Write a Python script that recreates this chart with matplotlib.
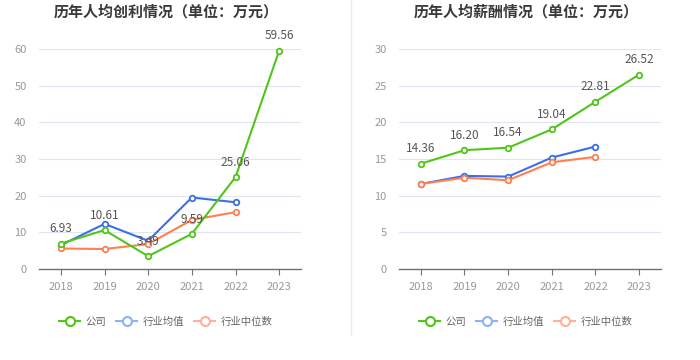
import matplotlib
matplotlib.use("Agg")
import matplotlib.pyplot as plt
from matplotlib.lines import Line2D

plt.rcParams['font.family'] = ['Noto Sans CJK SC', 'DejaVu Sans']

years = ['2018', '2019', '2020', '2021', '2022', '2023']

profit_title = '历年人均创利情况（单位：万元）'
profit_company = [6.93, 10.61, 3.49, 9.59, 25.06, 59.56]
profit_avg = [6.5, 12.3, 7.7, 19.5, 18.2]
profit_median = [5.6, 5.45, 6.8, 13.4, 15.5]
profit_yticks = [0, 10, 20, 30, 40, 50, 60]

salary_title = '历年人均薪酬情况（单位：万元）'
salary_company = [14.36, 16.20, 16.54, 19.04, 22.81, 26.52]
salary_avg = [11.6, 12.7, 12.6, 15.2, 16.7]
salary_median = [11.6, 12.45, 12.1, 14.55, 15.3]
salary_yticks = [0, 5, 10, 15, 20, 25, 30]

series_names = ['公司', '行业均值', '行业中位数']
colors = ['#52c41a', '#3b6fe6', '#ff7f50']
legend_colors = ['#52c41a', '#8fb0f2', '#ffb09a']

W, H = 700, 360
fig = plt.figure(figsize=(7, 3.6), dpi=100)


def make_panel(x0, x1, title, comp, avg, med, yticks):
    y_bot, y_top = 269, 49
    ax = fig.add_axes([x0 / W, 1 - y_bot / H, (x1 - x0) / W, (y_bot - y_top) / H])
    n = len(years)
    xs = list(range(n))
    ax.set_xlim(-0.5, n - 0.5)
    ax.set_ylim(yticks[0], yticks[-1])
    ax.set_yticks(yticks)
    ax.set_xticks(xs)
    ax.set_xticklabels(years)
    for s in ['top', 'right', 'left']:
        ax.spines[s].set_visible(False)
    ax.spines['bottom'].set_color('#6e7079')
    ax.spines['bottom'].set_linewidth(1)
    ax.yaxis.grid(True, color='#e0e6f1', linewidth=0.8)
    ax.set_axisbelow(True)
    ax.tick_params(axis='y', length=0, labelsize=8, labelcolor='#999999', pad=9)
    ax.tick_params(axis='x', length=4, color='#6e7079', labelsize=8, labelcolor='#999999', pad=5)
    for data, c, z in [(avg, colors[1], 3), (med, colors[2], 3), (comp, colors[0], 4)]:
        ax.plot(xs[:len(data)], data, color=c, linewidth=1.5, marker='o', markersize=4,
                markerfacecolor='white', markeredgecolor=c, markeredgewidth=1.3,
                zorder=z, clip_on=False)
    for i, v in enumerate(comp):
        ax.annotate(f'{v:.2f}', (xs[i], v), xytext=(0, 6), textcoords='offset points',
                    ha='center', va='bottom', fontsize=8.5, color='#555555', zorder=6)
    fig.text((x0 + x1) / 2 / W - 4 / W, 1 - 12 / H, title, ha='center', va='center',
             fontsize=10.8, fontweight='bold', color='#3a3a3a')
    handles = [Line2D([0], [0], color=lc, linewidth=1.5, marker='o', markersize=6.5,
                      markerfacecolor='white', markeredgecolor=lc, markeredgewidth=1.5)
               for lc in legend_colors]
    leg = fig.legend(handles, series_names, loc='center',
                     bbox_to_anchor=((x0 + x1) / 2 / W - 0.006, 1 - 322 / H),
                     ncol=3, frameon=False, fontsize=7.5, handlelength=2.0,
                     columnspacing=1.0, handletextpad=0.5)
    for t in leg.get_texts():
        t.set_color('#666666')
    return ax


make_panel(39, 301, profit_title, profit_company, profit_avg, profit_median, profit_yticks)
make_panel(399, 661, salary_title, salary_company, salary_avg, salary_median, salary_yticks)

fig.add_artist(Line2D([351 / W, 351 / W], [1 - 0 / H, 1 - 335 / H], color='#eeeeee', linewidth=1))

fig.savefig('out.png', dpi=100, facecolor='white')
